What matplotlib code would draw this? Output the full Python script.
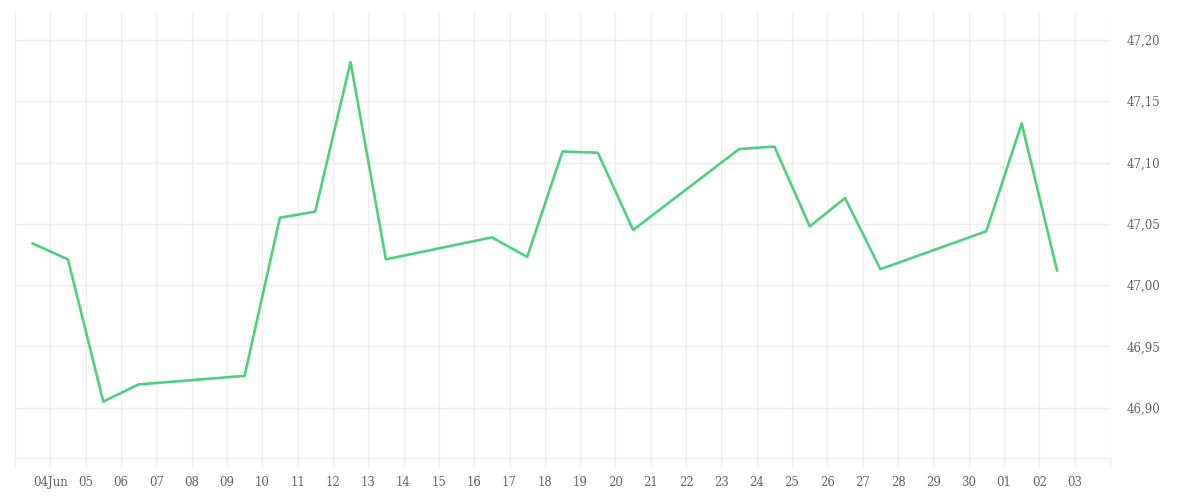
import matplotlib
matplotlib.use("Agg")
import matplotlib.pyplot as plt
import pandas as pd

# cotacao diaria (horario do meio-dia)
datas = [
    "2025-06-03 12:00", "2025-06-04 12:00", "2025-06-05 12:00", "2025-06-06 12:00",
    "2025-06-09 12:00", "2025-06-10 12:00", "2025-06-11 12:00", "2025-06-12 12:00",
    "2025-06-13 12:00", "2025-06-16 12:00", "2025-06-17 12:00", "2025-06-18 12:00",
    "2025-06-19 12:00", "2025-06-20 12:00", "2025-06-23 12:00", "2025-06-24 12:00",
    "2025-06-25 12:00", "2025-06-26 12:00", "2025-06-27 12:00", "2025-06-30 12:00",
    "2025-07-01 12:00", "2025-07-02 12:00",
]
valores = [
    47.034, 47.021, 46.905, 46.919, 46.926, 47.055, 47.060, 47.182,
    47.021, 47.039, 47.023, 47.109, 47.108, 47.045, 47.111, 47.113,
    47.048, 47.071, 47.013, 47.044, 47.132, 47.012,
]

dias_ticks = pd.date_range("2025-06-03", "2025-07-04", freq="D")
rotulos_x = [""] + ["04Jun"] + [d.strftime("%d") for d in dias_ticks[2:-1]] + [""]
ticks_y = [46.90, 46.95, 47.00, 47.05, 47.10, 47.15, 47.20]
rotulos_y = [f"{v:.2f}".replace(".", ",") for v in ticks_y]

COR_GRADE = "#eeeeee"
COR_TEXTO = "#666666"

fig = plt.figure(figsize=(12, 5), dpi=100)
ax = fig.add_axes([0.0125, 0.084, 0.9125, 0.892])

ax.plot(pd.to_datetime(datas), valores, color="#4cd27c", linewidth=1.9)

ax.set_xlim(dias_ticks[0], dias_ticks[-1])
ax.set_ylim(46.859, 47.2228)

ax.set_xticks(dias_ticks)
ax.set_xticklabels(rotulos_x)
ax.set_yticks(ticks_y)
ax.set_yticklabels(rotulos_y)

ax.yaxis.tick_right()
ax.tick_params(axis="x", length=7.2, width=1, color=COR_GRADE, pad=6,
               labelsize=8.5, labelcolor=COR_TEXTO)
ax.tick_params(axis="y", length=0, pad=12, labelsize=8.5, labelcolor=COR_TEXTO)
for lbl in ax.get_xticklabels() + ax.get_yticklabels():
    lbl.set_fontfamily("DejaVu Serif")

ax.grid(True, color=COR_GRADE, linewidth=1)
ax.set_axisbelow(True)
for lado in ["top", "left", "right"]:
    ax.spines[lado].set_visible(False)
ax.spines["bottom"].set_color(COR_GRADE)

fig.savefig("out.png", dpi=100)
plt.close(fig)
